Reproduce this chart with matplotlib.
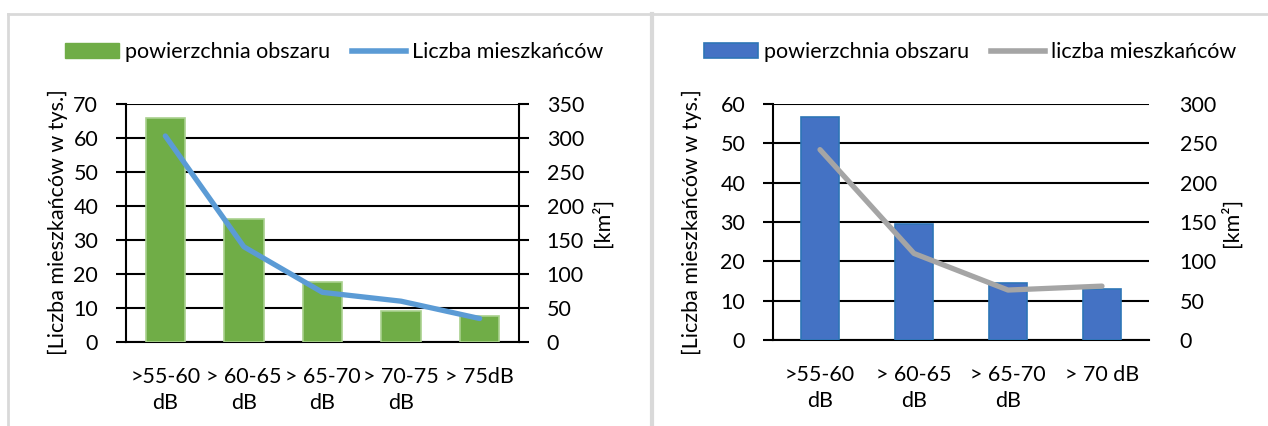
import matplotlib.pyplot as plt
from matplotlib.lines import Line2D
from matplotlib.patches import Patch

plt.rcParams['font.family'] = ['Lato', 'DejaVu Sans']

W, H = 1268, 426

# left chart
cats_a = ['>55-60\ndB', '> 60-65\ndB', '> 65-70\ndB', '> 70-75\ndB', '> 75dB']
area_a = [65.8, 36.3, 17.7, 9.1, 7.7]        # bars, left scale
people_a = [303, 140, 73, 60, 34.5]          # line, right scale

# right chart
cats_b = ['>55-60\ndB', '> 60-65\ndB', '> 65-70\ndB', '> 70 dB']
area_b = [56.8, 29.5, 14.4, 13.0]
people_b = [242, 110, 63.5, 68.5]

FS = 15.5


def px_axes(fig, x0, y0, x1, y1):
    # pixel box (from top-left) -> figure fraction
    return fig.add_axes([x0 / W, 1 - y1 / H, (x1 - x0) / W, (y1 - y0) / H])


def panel(ax, cats, bars, line, ymax, rmax, bar_w, bar_c, edge_c, line_c,
          right_spine, rpad):
    x = range(len(cats))
    ax.bar(x, bars, width=bar_w, color=bar_c, edgecolor=edge_c, linewidth=1.2, zorder=3)
    ax.set_xlim(-0.5, len(cats) - 0.5)
    ax.set_ylim(0, ymax)
    ax.set_yticks(range(0, ymax + 1, 10))
    ax.set_xticks(list(x))
    ax.set_xticklabels(cats, fontsize=FS, linespacing=1.4)
    ax.tick_params(axis='x', length=0, pad=18)
    ax.tick_params(axis='y', length=7, width=1.5, pad=13, labelsize=FS)
    ax.grid(axis='y', color='black', linewidth=1.5, zorder=1)
    for s in ['top', 'right']:
        ax.spines[s].set_visible(False)
    ax.spines['left'].set_linewidth(1.5)
    ax.spines['bottom'].set_linewidth(1.5)

    ax2 = ax.twinx()
    ax2.plot(x, line, color=line_c, linewidth=3.8, solid_capstyle='round', zorder=4)
    ax2.set_ylim(0, rmax)
    ax2.set_yticks(range(0, rmax + 1, 50))
    for s in ['top', 'left', 'bottom']:
        ax2.spines[s].set_visible(False)
    if right_spine:
        ax2.spines['right'].set_linewidth(1.5)
        ax2.tick_params(axis='y', length=7, width=1.5, pad=rpad, labelsize=FS)
    else:
        ax2.spines['right'].set_visible(False)
        ax2.tick_params(axis='y', length=0, pad=rpad, labelsize=FS)
    return ax2


fig = plt.figure(figsize=(W / 100, H / 100), dpi=100)

# grey frames
frame = '#d9d9d9'
fig.add_artist(Line2D([8 / W, 1], [1 - 14 / H] * 2, color=frame, lw=2))
fig.add_artist(Line2D([8 / W] * 2, [0, 1 - 14 / H], color=frame, lw=2))
fig.add_artist(Line2D([652 / W] * 2, [0, 1 - 14 / H], color=frame, lw=3))

ax_a = px_axes(fig, 126, 104, 519, 342)
panel(ax_a, cats_a, area_a, people_a, 70, 350, 0.5, '#70ad47', '#a9d18e',
      '#5b9bd5', True, 13)

ax_b = px_axes(fig, 773, 104, 1149, 340)
panel(ax_b, cats_b, area_b, people_b, 60, 300, 0.41, '#4472c4', '#2e75b6',
      '#a5a5a5', False, 22)

# axis titles
ylab = '[Liczba mieszkańców w tys.]'
fig.text(58 / W, 1 - 222 / H, ylab, rotation=90, ha='center', va='center', fontsize=FS)
fig.text(692 / W, 1 - 222 / H, ylab, rotation=90, ha='center', va='center', fontsize=FS)
fig.text(602 / W, 1 - 222 / H, '[km²]', rotation=90, ha='center', va='center', fontsize=FS)
fig.text(1231 / W, 1 - 222 / H, '[km²]', rotation=90, ha='center', va='center', fontsize=FS)

# legends
leg_kw = dict(loc='center', frameon=False, ncol=2, fontsize=FS, handlelength=2.5,
              handleheight=0.65, handletextpad=0.3, columnspacing=1.0, borderpad=0)
fig.legend([Patch(color='#70ad47'), Line2D([], [], color='#5b9bd5', lw=4)],
           ['powierzchnia obszaru', 'Liczba mieszkańców'],
           bbox_to_anchor=(334 / W, 1 - 52 / H), **leg_kw)
fig.legend([Patch(facecolor='#4472c4', edgecolor='#2e75b6', lw=1.2),
            Line2D([], [], color='#a5a5a5', lw=4)],
           ['powierzchnia obszaru', 'liczba mieszkańców'],
           bbox_to_anchor=(970 / W, 1 - 52 / H), **leg_kw)

fig.savefig('out.png', dpi=100)
